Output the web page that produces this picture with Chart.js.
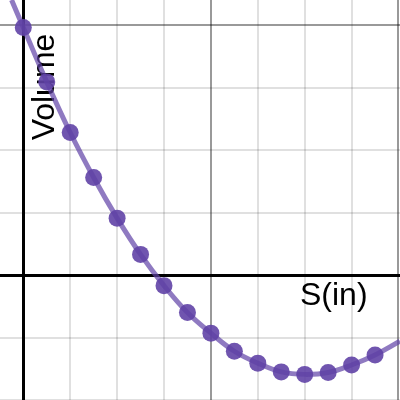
<!DOCTYPE html>
<html>
<head>
<meta charset="utf-8">
<script src="https://cdn.jsdelivr.net/npm/chart.js@4"></script>
<style>
  html, body { margin: 0; padding: 0; background: #fff; }
  #wrap { width: 400px; height: 400px; }
</style>
</head>
<body>
<div id="wrap"><canvas id="volChart" width="400" height="400"></canvas></div>
<script>
(function(){

  // measured points: S (in) and Volume
  var sValues = [0, 0.5, 1, 1.5, 2, 2.5, 3, 3.5, 4, 4.5, 5, 5.5, 6, 6.5, 7, 7.5];
  var volume  = [3.96, 3.09, 2.28, 1.56, 0.91, 0.33, -0.17, -0.60, -0.93, -1.22, -1.41, -1.55, -1.59, -1.56, -1.44, -1.28];

  // fitted curve (runs to the edges of the view)
  var curveS = [-0.25, 0, 0.5, 1, 1.5, 2, 2.5, 3, 3.5, 4, 4.5, 5, 5.5, 6, 6.5, 7, 7.5, 8.03];
  var curveV = [4.4, 3.96, 3.09, 2.28, 1.56, 0.91, 0.33, -0.17, -0.60, -0.93, -1.22, -1.41, -1.55, -1.59, -1.56, -1.44, -1.28, -1.06];

  // grid lines
  var xGrid = [0, 1, 2, 3, 4, 5, 6, 7, 8];
  var yGrid = [-2, -1, 0, 1, 2, 3, 4];

  var xLabel = "S(in)";
  var yLabel = "Volume";

  var purple = "96,66,166";

  function toPoints(xs, ys) {
    return xs.map(function (x, i) { return { x: x, y: ys[i] }; });
  }

  function gridColor(c) {
    var v = c.tick.value;
    if (v === 0) return "#000";
    if (v % 4 === 0) return "rgba(0,0,0,0.4)";
    return "rgba(0,0,0,0.12)";
  }
  function gridWidth(c) {
    return c.tick.value === 0 ? 3 : 2;
  }

  var axisLabels = {
    id: "axisLabels",
    beforeDatasetsDraw: function (chart) {
      var ctx = chart.ctx;
      ctx.save();
      ctx.fillStyle = "#000";
      ctx.font = '32px "Liberation Sans", Arial, sans-serif';
      ctx.textBaseline = "alphabetic";
      ctx.textAlign = "left";
      ctx.fillText(xLabel, 300, 305);
      ctx.translate(54, 87);
      ctx.rotate(-Math.PI / 2);
      ctx.textAlign = "center";
      ctx.fillText(yLabel, 0, 0);
      ctx.restore();
    }
  };

  new Chart("volChart", {
    type: "scatter",
    data: {
      datasets: [
        {
          data: toPoints(sValues, volume),
          backgroundColor: "rgba(" + purple + ",0.9)",
          borderWidth: 0,
          pointRadius: 8.5,
          pointHoverRadius: 8.5,
          showLine: false,
          order: 0
        },
        {
          data: toPoints(curveS, curveV),
          borderColor: "rgba(" + purple + ",0.7)",
          borderWidth: 5,
          pointRadius: 0,
          showLine: true,
          tension: 0.4,
          order: 1
        }
      ]
    },
    options: {
      responsive: false,
      animation: false,
      devicePixelRatio: 1,
      layout: { padding: 0, autoPadding: false },
      plugins: {
        legend: { display: false },
        tooltip: { enabled: false }
      },
      scales: {
        x: {
          type: "linear",
          min: -0.497,
          max: 8.032,
          afterBuildTicks: function (scale) {
            scale.ticks = xGrid.map(function (v) { return { value: v }; });
          },
          ticks: { display: false },
          border: { display: false },
          grid: { color: gridColor, lineWidth: gridWidth, drawTicks: false }
        },
        y: {
          type: "linear",
          min: -2,
          max: 4.4,
          afterBuildTicks: function (scale) {
            scale.ticks = yGrid.map(function (v) { return { value: v }; });
          },
          ticks: { display: false },
          border: { display: false },
          grid: { color: gridColor, lineWidth: gridWidth, drawTicks: false }
        }
      }
    },
    plugins: [axisLabels]
  });

}());
</script>
</body>
</html>
